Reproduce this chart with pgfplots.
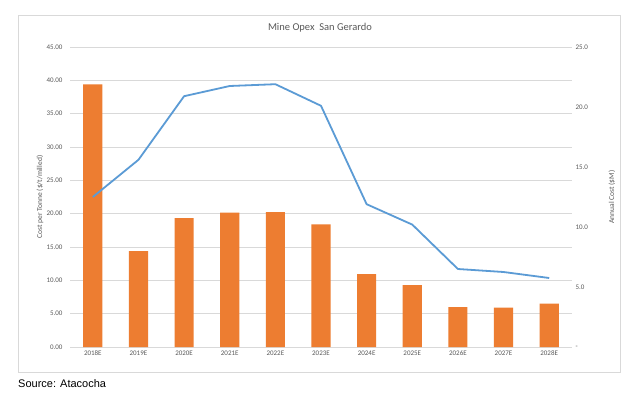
\documentclass[border=0pt]{standalone}
\usepackage{pgfplots}
\pgfplotsset{compat=1.18}
\usepackage{fontspec}
\setmainfont{Carlito}
\newfontfamily\arialfont{Liberation Sans}
\definecolor{barorange}{HTML}{ED7D31}
\definecolor{lineblue}{HTML}{5B9BD5}
\definecolor{gridgray}{HTML}{D9D9D9}
\definecolor{txtgray}{HTML}{595959}
\begin{document}
\begin{tikzpicture}[x=1pt,y=1pt]
\path[fill=white] (0,0) rectangle (624,392);
\draw[gridgray, line width=0.8pt] (18,20) rectangle (620,377);
\node[anchor=base west, font=\arialfont\fontsize{11}{13}\selectfont, inner sep=0pt] at (18,5) {Source: Atacocha};
\node[font=\fontsize{10.5}{12}\selectfont, text=txtgray] at (320,364) {Mine Opex\ \ San Gerardo};
\begin{axis}[at={(70pt,45pt)}, anchor=south west, scale only axis,
  width=502pt, height=300pt,
  xmin=-0.5, xmax=10.5, ymin=0, ymax=45,
  axis line style={draw=none}, major tick length=0pt,
  ytick={0,5,...,45}, ymajorgrids, grid style={gridgray, line width=0.8pt},
  xtick={0,...,10},
  xticklabels={2018E,2019E,2020E,2021E,2022E,2023E,2024E,2025E,2026E,2027E,2028E},
  tick label style={font=\fontsize{7}{8}\selectfont, text=txtgray},
  yticklabel style={/pgf/number format/fixed, /pgf/number format/fixed zerofill,
    /pgf/number format/precision=2, /pgf/number format/assume math mode=true, xshift=-4pt},
  ylabel={Cost per Tonne (\$/t/milled)},
  ylabel style={at={(axis description cs:-0.06,0.5)}, anchor=center, font=\fontsize{7.5}{9}\selectfont, text=txtgray},
  clip=false]
\addplot[ybar, bar width=0.42, fill=barorange, draw=none] coordinates {
 (0,39.4) (1,14.4) (2,19.35) (3,20.15) (4,20.25) (5,18.4) (6,10.95) (7,9.3) (8,6.0) (9,5.9) (10,6.5)};
\end{axis}
\begin{axis}[at={(70pt,45pt)}, anchor=south west, scale only axis,
  width=502pt, height=300pt,
  xmin=-0.5, xmax=10.5, ymin=0, ymax=25,
  axis y line*=right, axis x line=none,
  axis line style={draw=none}, major tick length=0pt,
  ytick={0,5,...,25}, yticklabels={-,5.0,10.0,15.0,20.0,25.0},
  tick label style={font=\fontsize{7}{8}\selectfont, text=txtgray},
  ylabel={Annual Cost (\$M)},
  ylabel style={at={(axis description cs:1.0797,0.5)}, anchor=center, rotate=0, font=\fontsize{7.5}{9}\selectfont, text=txtgray},
  clip=false]
\addplot[lineblue, line width=1.8pt, mark=none, line join=round] coordinates {
 (0,12.5) (1,15.6) (2,20.9) (3,21.75) (4,21.9) (5,20.1) (6,11.9) (7,10.2) (8,6.5) (9,6.25) (10,5.75)};
\end{axis}
\end{tikzpicture}
\end{document}
